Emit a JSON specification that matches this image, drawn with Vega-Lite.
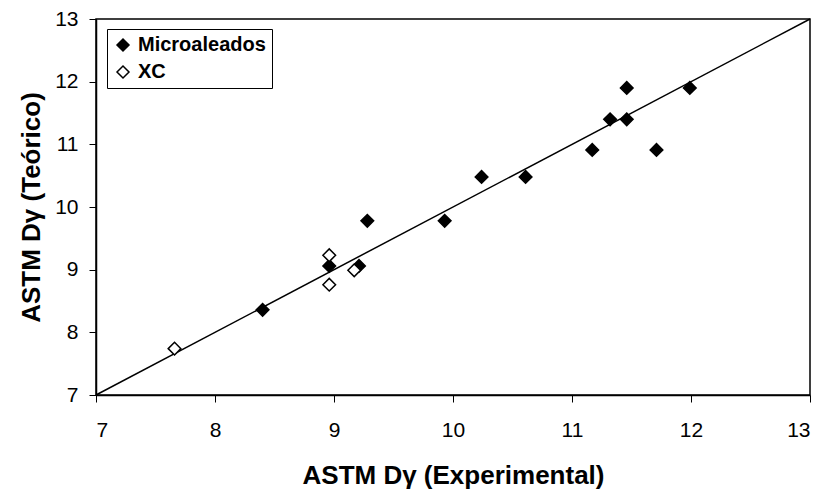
{
  "$schema": "https://vega.github.io/schema/vega-lite/v6.json",
  "width": 714,
  "height": 376,
  "autosize": {"type": "none"},
  "padding": {"left": 96, "top": 19, "right": 16, "bottom": 96},
  "background": "white",
  "config": {
    "font": "Liberation Sans",
    "view": {"stroke": "black", "strokeWidth": 1.5},
    "axis": {
      "grid": false,
      "domainColor": "black",
      "domainWidth": 1.5,
      "tickColor": "black",
      "tickSize": 7,
      "labelFont": "Liberation Sans",
      "labelFontSize": 21,
      "labelColor": "black",
      "titleFont": "Liberation Sans",
      "titleFontSize": 26,
      "titleFontWeight": "bold",
      "titleColor": "black"
    }
  },
  "datasets": {
    "pts": [
      {"exp": 8.40, "teo": 8.36, "serie": "Microaleados"},
      {"exp": 8.96, "teo": 9.06, "serie": "Microaleados"},
      {"exp": 9.21, "teo": 9.06, "serie": "Microaleados"},
      {"exp": 9.28, "teo": 9.78, "serie": "Microaleados"},
      {"exp": 9.93, "teo": 9.78, "serie": "Microaleados"},
      {"exp": 10.24, "teo": 10.48, "serie": "Microaleados"},
      {"exp": 10.61, "teo": 10.48, "serie": "Microaleados"},
      {"exp": 11.17, "teo": 10.91, "serie": "Microaleados"},
      {"exp": 11.71, "teo": 10.91, "serie": "Microaleados"},
      {"exp": 11.32, "teo": 11.40, "serie": "Microaleados"},
      {"exp": 11.46, "teo": 11.40, "serie": "Microaleados"},
      {"exp": 11.46, "teo": 11.90, "serie": "Microaleados"},
      {"exp": 11.99, "teo": 11.90, "serie": "Microaleados"},
      {"exp": 7.66, "teo": 7.74, "serie": "XC"},
      {"exp": 8.96, "teo": 9.23, "serie": "XC"},
      {"exp": 8.96, "teo": 8.76, "serie": "XC"},
      {"exp": 9.17, "teo": 8.99, "serie": "XC"}
    ],
    "diag": [
      {"exp": 7, "teo": 7},
      {"exp": 13, "teo": 13}
    ]
  },
  "layer": [
    {
      "data": {"name": "diag"},
      "mark": {"type": "line", "color": "black", "strokeWidth": 1.5},
      "encoding": {
        "x": {"field": "exp", "type": "quantitative", "scale": {"domain": [7, 13], "nice": false}, "axis": {"title": "ASTM Dγ (Experimental)", "values": [7, 8, 9, 10, 11, 12, 13], "format": "d", "labelPadding": 17, "titlePadding": 22}},
        "y": {"field": "teo", "type": "quantitative", "scale": {"domain": [7, 13], "nice": false}, "axis": {"title": "ASTM Dγ (Teórico)", "values": [7, 8, 9, 10, 11, 12, 13], "format": "d", "labelPadding": 11, "titlePadding": 10}}
      }
    },
    {
      "data": {"name": "pts"},
      "mark": {"type": "point", "shape": "diamond", "filled": true, "stroke": "black", "strokeWidth": 1.5, "size": 160, "opacity": 1},
      "encoding": {
        "x": {"field": "exp", "type": "quantitative"},
        "y": {"field": "teo", "type": "quantitative"},
        "fill": {
          "field": "serie",
          "type": "nominal",
          "scale": {"domain": ["Microaleados", "XC"], "range": ["black", "white"]},
          "legend": {
            "title": null,
            "orient": "none",
            "legendX": 11,
            "legendY": 10,
            "strokeColor": "black",
            "fillColor": "white",
            "padding": 6,
            "labelFont": "Liberation Sans",
            "labelFontSize": 20,
            "labelFontWeight": "bold",
            "labelColor": "black",
            "labelOffset": 5,
            "symbolType": "diamond",
            "symbolSize": 144,
            "symbolStrokeColor": "black",
            "symbolStrokeWidth": 1.5,
            "rowPadding": 7
          }
        }
      }
    }
  ]
}
